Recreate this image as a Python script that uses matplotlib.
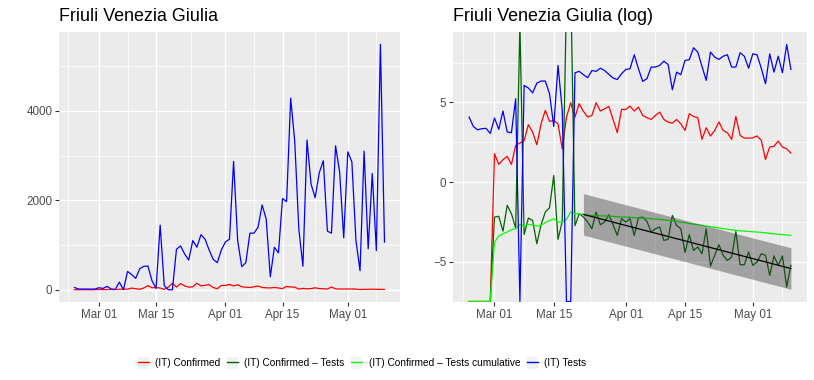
import numpy as np
import pandas as pd
import matplotlib
matplotlib.use('Agg')
import matplotlib.pyplot as plt
import matplotlib.dates as mdates
from matplotlib.patches import Patch
from matplotlib.lines import Line2D
from matplotlib.legend_handler import HandlerTuple

plt.rcParams['font.family'] = ['Liberation Sans', 'DejaVu Sans']

region = "Friuli Venezia Giulia"
dates = pd.date_range('2020-02-24', '2020-05-10')

# daily values, linear panel
tests = [50, 15, 15, 15, 15, 15, 45, 30, 75, 15, 8, 170,
         0, 410, 340, 255, 470, 525, 530, 200, 30, 1445, 90, 0, 0,
         905, 980, 800, 665, 1100, 950, 1230, 1130, 890, 680, 605, 890, 1070,
         1130, 2870, 1100, 515, 605, 1265, 1265, 1400, 1895, 1580, 290, 950, 825,
         2040, 1970, 4285, 3310, 1350, 525, 3350, 2360, 2060, 2615, 2885, 1310, 1265,
         3220, 2630, 1160, 3085, 2860, 1100, 425, 3100, 915, 2600, 875, 5490, 1065]
confirmed = [0, 0, 0, 0, 0, 0, 6, 3, 4, 5, 3, 10,
             12, 13, 37, 23, 10, 39, 90, 45, 48, 39, 8, 59, 145,
             59, 137, 85, 59, 65, 145, 86, 99, 116, 51, 22, 96, 96,
             118, 86, 111, 65, 57, 51, 65, 81, 51, 43, 40, 51, 39,
             26, 73, 62, 57, 15, 30, 18, 26, 43, 26, 22, 15, 62,
             19, 16, 16, 16, 18, 14, 4, 9, 9, 13, 9, 8, 6]

# log panel (zero counts sit on the floor of the panel)
log_tests = [4.08, 3.49, 3.28, 3.35, 3.37, 3.05, 4.02, 3.31, 4.46, 3.14, 3.10, 5.23,
             -7.5, 6.07, 5.9, 5.6, 6.21, 6.34, 6.34, 5.54, 3.49, 7.32, 4.5, -7.5, -7.5,
             6.86, 6.95, 6.74, 6.55, 7.0, 6.95, 7.15, 7.0, 6.76, 6.53, 6.44, 6.8, 7.07,
             7.11, 7.99, 7.11, 6.32, 6.49, 7.22, 7.22, 7.32, 7.59, 7.38, 5.79, 6.9, 6.74,
             7.64, 7.68, 8.43, 8.16, 7.26, 6.38, 8.16, 7.85, 7.7, 7.9, 7.99, 7.22, 7.22,
             8.12, 7.9, 7.15, 8.05, 7.99, 7.15, 6.17, 8.05, 6.9, 7.9, 6.86, 8.64, 7.07]
log_confirmed = [-7.5, -7.5, -7.5, -7.5, -7.5, -7.5, 1.78, 1.11, 1.4, 1.61, 1.11, 2.3,
                 2.45, 2.6, 3.6, 3.14, 2.34, 3.66, 4.5, 3.81, 3.87, 3.66, 2.09, 4.08, 4.98,
                 4.08, 4.92, 4.44, 4.08, 4.18, 4.98, 4.46, 4.6, 4.75, 3.93, 3.1, 4.56, 4.56,
                 4.77, 4.46, 4.71, 4.18, 4.04, 3.93, 4.18, 4.39, 3.93, 3.77, 3.70, 3.93, 3.66,
                 3.24, 4.29, 4.12, 4.04, 2.68, 3.41, 2.89, 3.24, 3.77, 3.24, 3.1, 2.68, 4.12,
                 2.93, 2.76, 2.76, 2.78, 2.89, 2.62, 1.42, 2.2, 2.24, 2.57, 2.2, 2.09, 1.82]
log_ratio = [-7.5, -7.5, -7.5, -7.5, -7.5, -7.5, -2.2, -2.15, -3.08, -1.46, -1.99, -2.89,
             9.95, -3.3, -2.26, -2.41, -3.87, -2.68, -1.88, -1.61, 0.42, -3.6, -2.47, 11.58, 12.48,
             -2.74, -1.99, -2.2, -2.51, -2.93, -1.88, -2.68, -2.51, -2.05, -2.68, -3.35, -2.3, -2.51,
             -2.3, -3.35, -2.24, -2.2, -2.47, -3.14, -2.93, -2.82, -3.66, -3.6, -2.09, -2.72, -2.93,
             -4.42, -3.3, -4.29, -4.08, -4.5, -2.93, -5.27, -4.6, -3.93, -4.6, -4.92, -4.71, -3.1,
             -5.19, -5.19, -4.39, -5.23, -5.02, -4.5, -4.6, -5.86, -4.64, -5.23, -4.64, -6.59, -5.23]
log_ratio_cum = [-7.5, -7.5, -7.5, -7.5, -7.5, -7.5, -3.77, -3.39, -3.24, -3.14, -2.99, -2.93,
                 -2.66, -2.78, -2.66, -2.68, -2.76, -2.72, -2.55, -2.41, -2.3, -2.51, -2.51, -2.34, -1.88,
                 -1.99, -2.0, -2.05, -2.08, -2.1, -2.1, -2.12, -2.13, -2.14, -2.15, -2.18, -2.2, -2.2,
                 -2.21, -2.24, -2.25, -2.26, -2.28, -2.3, -2.32, -2.34, -2.38, -2.41, -2.43, -2.47, -2.51,
                 -2.55, -2.6, -2.64, -2.68, -2.72, -2.76, -2.8, -2.84, -2.88, -2.92, -2.96, -3.0, -3.03,
                 -3.06, -3.08, -3.1, -3.12, -3.14, -3.16, -3.19, -3.22, -3.25, -3.28, -3.3, -3.32, -3.35]

# linear trend of log(confirmed/tests) from Mar 22 on
fit_dates = pd.to_datetime(['2020-03-22', '2020-05-10'])
fit_values = [-2.03, -5.43]
fit_band = 1.3

labels = ["(IT) Confirmed", "(IT) Confirmed \u2013 Tests", "(IT) Confirmed \u2013 Tests cumulative", "(IT) Tests"]
colors = ["#FF0000", "#006400", "#00FF00", "#0000FF"]

breaks = pd.to_datetime(['2020-02-15', '2020-03-01', '2020-03-15', '2020-04-01',
                         '2020-04-15', '2020-05-01', '2020-05-15'])
minor_breaks = breaks[:-1] + (breaks[1:] - breaks[:-1]) / 2
span = dates[-1] - dates[0]
xlim = (dates[0] - 0.05 * span, dates[-1] + 0.05 * span)


def style_axes(ax, ymajor, yminor):
    ax.set_facecolor('#EBEBEB')
    for s in ax.spines.values():
        s.set_visible(False)
    ax.set_xticks(breaks[1:-1])
    ax.set_xticks(minor_breaks, minor=True)
    ax.set_yticks(ymajor)
    ax.set_yticks(yminor, minor=True)
    ax.xaxis.set_major_formatter(mdates.DateFormatter('%b %d'))
    ax.grid(which='major', color='white', lw=1.0)
    ax.grid(which='minor', color='white', lw=0.5)
    ax.set_axisbelow(True)
    ax.tick_params(which='major', length=2.7, width=0.8, color='#333333',
                   labelcolor='#4D4D4D', labelsize=8.4, pad=2)
    ax.tick_params(which='minor', length=0)
    ax.set_xlim(xlim)


fig = plt.figure(figsize=(8.14, 3.8), dpi=100)
ax1 = fig.add_axes([59 / 814, 78 / 380, 341 / 814, 270 / 380])
ax2 = fig.add_axes([453 / 814, 78 / 380, 354 / 814, 270 / 380])

lw = 0.9
ax1.plot(dates, confirmed, color=colors[0], lw=lw)
ax1.plot(dates, tests, color=colors[3], lw=lw)
rng = max(tests) - 0
style_axes(ax1, [0, 2000, 4000], [1000, 3000, 5000])
ax1.set_ylim(0 - 0.05 * rng, max(tests) + 0.05 * rng)

ax2.plot(dates, log_confirmed, color=colors[0], lw=lw)
ax2.plot(dates, log_ratio, color=colors[1], lw=lw)
ax2.plot(dates, log_ratio_cum, color=colors[2], lw=lw)
ax2.plot(dates, log_tests, color=colors[3], lw=lw)
fit_values = np.array(fit_values)
ax2.fill_between(fit_dates, fit_values - fit_band, fit_values + fit_band,
                 color='#333333', alpha=0.4, lw=0, zorder=3)
ax2.plot(fit_dates, fit_values, color='black', lw=lw, zorder=4)
style_axes(ax2, [-5, 0, 5], [-7.5, -2.5, 2.5, 7.5])
ax2.set_ylim(-7.53, 9.42)

fig.text(59 / 814, 1 - 20.7 / 380, region, fontsize=12.9, va='baseline')
fig.text(453 / 814, 1 - 20.7 / 380, region + " (log)", fontsize=12.9, va='baseline')

handles = [(Patch(facecolor='#F2F2F2', edgecolor='none'), Line2D([], [], color=c, lw=1.0))
           for c in colors]
fig.legend(handles, labels, handler_map={tuple: HandlerTuple(ndivide=1, pad=0)},
           loc='center', bbox_to_anchor=(362 / 814, 1 - 363 / 380), ncol=4, frameon=False,
           fontsize=7.25, handlelength=1.1, handleheight=1.4, handletextpad=0.6,
           columnspacing=0.7, borderpad=0)

fig.savefig('out.png', dpi=100)
